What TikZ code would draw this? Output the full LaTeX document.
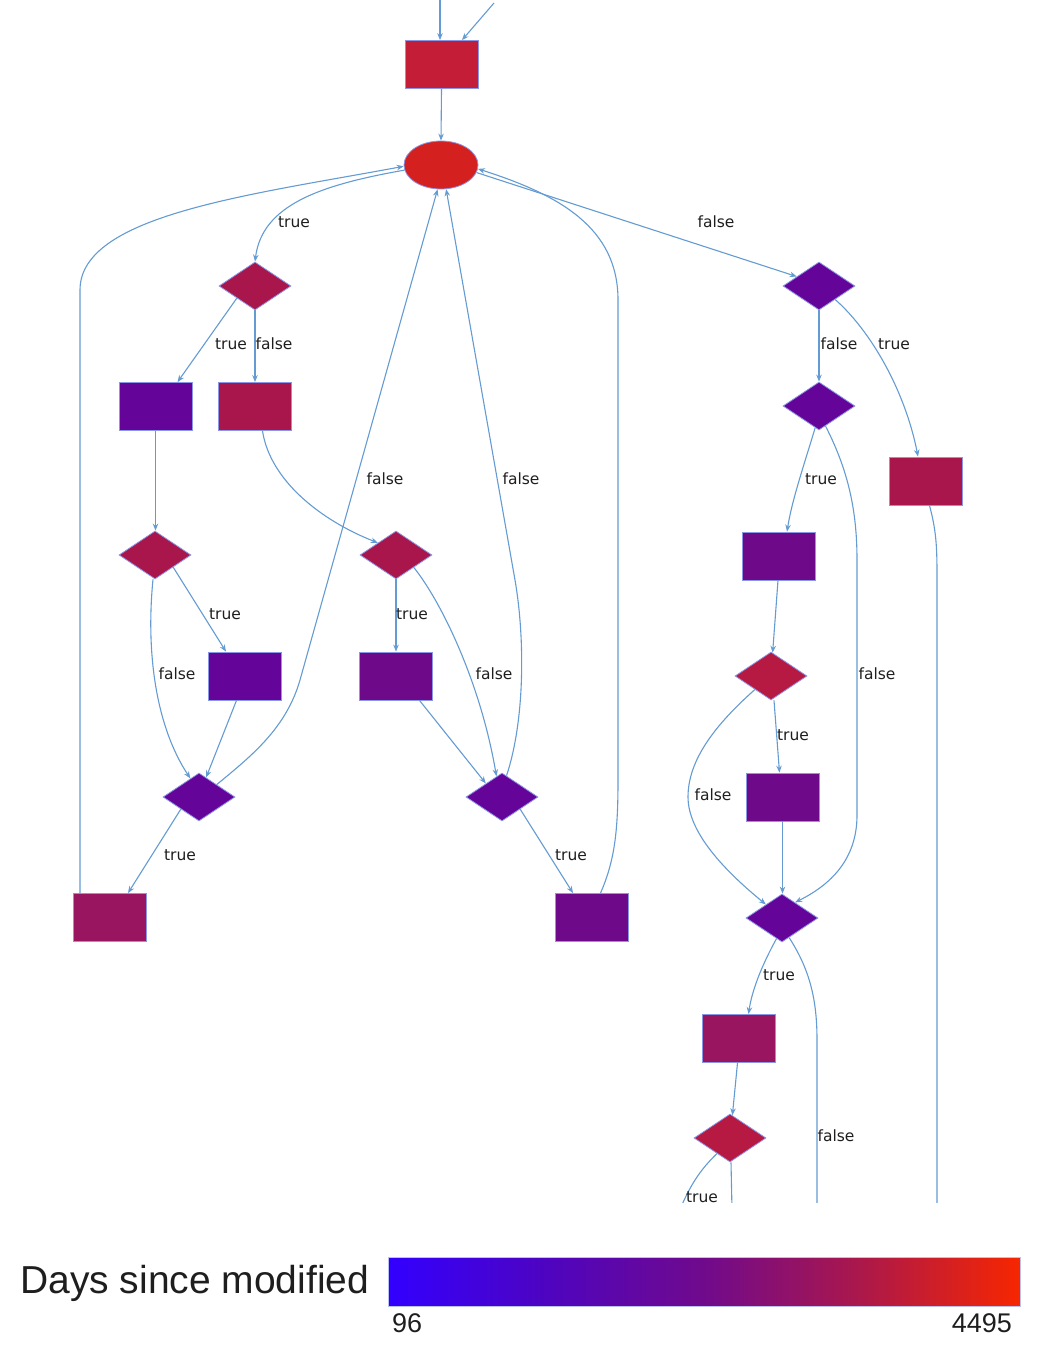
\documentclass[tikz,border=0pt]{standalone}
\usepackage{fontspec}
\setmainfont{DejaVu Sans}
\newfontfamily\legendfont{Liberation Sans}
\usetikzlibrary{shapes.geometric,arrows.meta}

% node fill colours (days since modified)
\definecolor{cStart}{RGB}{196,29,55}
\definecolor{cLoop}{RGB}{212,32,30}
\definecolor{cCrim}{RGB}{168,22,76}
\definecolor{cRed}{RGB}{182,26,66}
\definecolor{cMag}{RGB}{154,21,96}
\definecolor{cPurA}{RGB}{101,4,153}
\definecolor{cPurB}{RGB}{110,10,138}
\definecolor{edgeblue}{RGB}{100,155,210}
\definecolor{rimblue}{RGB}{140,150,230}
\definecolor{txt}{RGB}{30,30,30}

% legend bar colours
\definecolor{gA}{RGB}{50,0,255}
\definecolor{gB}{RGB}{78,4,192}
\definecolor{gC}{RGB}{112,10,140}
\definecolor{gD}{RGB}{172,24,74}
\definecolor{gE}{RGB}{247,38,0}
\pgfdeclarehorizontalshading{agebar}{100bp}{%
  color(0bp)=(gA); color(25bp)=(gA); color(37.5bp)=(gB);
  color(50bp)=(gC); color(62.5bp)=(gD); color(75bp)=(gE); color(100bp)=(gE)}

\tikzset{
  box/.style={rectangle, draw=rimblue, line width=0.8pt, minimum width=73pt, minimum height=48pt, inner sep=0pt},
  cond/.style={diamond, draw=rimblue, line width=0.8pt, minimum width=72pt, minimum height=48pt, inner sep=0pt},
  loophead/.style={ellipse, draw=rimblue, line width=0.8pt, minimum width=74pt, minimum height=48pt, inner sep=0pt},
  edge/.style={draw=edgeblue, line width=1.1pt, -{Stealth[length=7pt,width=5.5pt]}},
  plain/.style={draw=edgeblue, line width=1.1pt},
  lbl/.style={text=txt, font=\fontsize{15.5}{18}\selectfont, inner sep=0pt},
  legend/.style={text=txt, inner sep=0pt}
}

\begin{document}
\begin{tikzpicture}[x=1pt,y=-1pt]
\useasboundingbox (0,0) rectangle (1045,1356);

\begin{scope}
\clip (0,0) rectangle (1045,1202);

% ---- nodes ----
\node[box, fill=cStart] (r0) at (441.5,64.5) {};
\node[loophead, fill=cLoop] (loop) at (441,165) {};

\node[cond, fill=cCrim] (d1) at (255,286) {};
\node[box, fill=cPurA] (ra) at (155.5,406.5) {};
\node[box, fill=cCrim] (rb) at (254.5,406.5) {};
\node[cond, fill=cCrim] (d2) at (155,555) {};
\node[cond, fill=cCrim] (d3) at (396,555) {};
\node[box, fill=cPurA] (rc) at (244.5,676) {};
\node[box, fill=cPurB] (re) at (395.5,676) {};
\node[cond, fill=cPurA] (d4) at (199,797) {};
\node[cond, fill=cPurA] (d5) at (502,797) {};
\node[box, fill=cMag] (rd) at (110,917.5) {};
\node[box, fill=cPurB] (rf) at (591.5,917.5) {};

\node[cond, fill=cPurA] (d6) at (819,286) {};
\node[cond, fill=cPurA] (d7) at (819,406) {};
\node[box, fill=cCrim] (rg) at (925.5,481) {};
\node[box, fill=cPurB] (rh) at (779,556) {};
\node[cond, fill=cRed] (d8) at (771,676) {};
\node[box, fill=cPurB] (ri) at (782.5,797) {};
\node[cond, fill=cPurA] (d9) at (782,918) {};
\node[box, fill=cMag] (rj) at (738.5,1038.5) {};
\node[cond, fill=cRed] (d10) at (730,1138) {};

% free ends of edges leaving the drawn area
\coordinate (in1) at (440,-2);
\coordinate (in2) at (494,3);
\coordinate (outG) at (937,1210);
\coordinate (outF) at (817,1210);
\coordinate (outT) at (678,1214);
\coordinate (outM) at (732,1210);

% ---- connectors ----
\draw[edge] (in1) -- (in1 |- r0.north);
\draw[edge] (in2) -- ([xshift=20.5pt]r0.north);
\draw[edge] (r0.south) -- (loop.north);

% left branch
\draw[edge] (loop.188) .. controls (320,185) and (262,205) .. (d1.north);
\draw[edge] (d1.south west) -- ([xshift=22pt]ra.north);
\draw[edge] (d1.south) -- (d1.south |- rb.north);
\draw[edge] (ra.south) -- (ra.south |- d2.north);
\draw[edge] ([xshift=8pt]rb.south) .. controls (270,480) and (320,520) .. (d3.north west);
\draw[edge] (d2.south east) -- ([xshift=-18.5pt]rc.north);
\draw[edge] ([xshift=-2pt]d2.south) .. controls (146,650) and (155,725) .. (d4.115);
\draw[edge] ([xshift=-8pt]rc.south) -- (d4.70);
\draw[edge] (d4.35) .. controls (250,757) and (286,729) .. (300,680) -- (loop.262);
\draw[edge] (d4.south west) -- ([xshift=18pt]rd.north);
\draw[edge] ([xshift=-30pt]rd.north) -- (80,290) .. controls (80,215) and (250,195) .. (loop.182);

% middle branch
\draw[edge] (d3.south) -- (d3.south |- re.north);
\draw[edge] (d3.-35) .. controls (440,600) and (480,680) .. (d5.105);
\draw[edge] ([xshift=24pt]re.south) -- (d5.140);
\draw[edge] (d5.78) .. controls (525,720) and (525,638) .. (515,580) -- (loop.282);
\draw[edge] (d5.south east) -- ([xshift=-18.5pt]rf.north);
\draw[edge] ([xshift=9pt]rf.north) .. controls (615,860) and (618,830) .. (618,780) -- (618,300) .. controls (618,228) and (560,195) .. (loop.-6);

% right branch
\draw[edge] (loop.-12) -- (d6.157);
\draw[edge] (d6.south) -- (d7.north);
\draw[edge] (d6.-40) .. controls (870,330) and (905,390) .. ([xshift=-7.5pt]rg.north);
\draw[plain] ([xshift=4pt]rg.south) .. controls (936,530) and (937,545) .. (937,575) -- (outG);
\draw[edge] (d7.-100) .. controls (804,465) and (792,500) .. ([xshift=8pt]rh.north);
\draw[edge] (d7.-72) .. controls (848,470) and (857,510) .. (857,560) -- (857,815) .. controls (857,860) and (830,885) .. (d9.50);
\draw[edge] ([xshift=-1pt]rh.south) -- (d8.86);
\draw[edge] ([xshift=3pt]d8.south) -- ([xshift=-3pt]ri.north);
\draw[edge] (d8.-140) .. controls (715,725) and (688,760) .. (688,797) .. controls (688,835) and (730,875) .. (d9.140);
\draw[edge] (ri.south) -- (ri.south |- d9.north);
\draw[edge] (d9.-105) .. controls (762,965) and (752,990) .. ([xshift=10pt]rj.north);
\draw[plain] (d9.-70) .. controls (810,970) and (817,1000) .. (817,1040) -- (outF);
\draw[edge] ([xshift=-1pt]rj.south) -- (d10.84);
\draw[plain] (d10.-130) .. controls (700,1170) and (690,1185) .. (outT);
\draw[plain] ([xshift=1pt]d10.south) -- (outM);

% ---- connector labels ----
\node[lbl] (l1) at (294,222) {true};
\node[lbl] (l2) at (716,222) {false};
\node[lbl] (l3) at (231,344) {true};
\node[lbl] (l4) at (274,344) {false};
\node[lbl] (l5) at (839,344) {false};
\node[lbl] (l6) at (894,344) {true};
\node[lbl] (l7) at (385,479) {false};
\node[lbl] (l8) at (521,479) {false};
\node[lbl] (l9) at (821,479) {true};
\node[lbl] (l10) at (225,614) {true};
\node[lbl] (l11) at (412,614) {true};
\node[lbl] (l12) at (177,674) {false};
\node[lbl] (l13) at (494,674) {false};
\node[lbl] (l14) at (877,674) {false};
\node[lbl] (l15) at (793,735) {true};
\node[lbl] (l16) at (713,795) {false};
\node[lbl] (l17) at (180,855) {true};
\node[lbl] (l18) at (571,855) {true};
\node[lbl] (l19) at (779,975) {true};
\node[lbl] (l20) at (836,1136) {false};
\node[lbl] (l21) at (702,1197) {true};
\end{scope}

% ---- legend ----
\node[legend, anchor=base west, font=\legendfont\fontsize{39}{44}\selectfont] (ltitle) at (20,1293) {Days since modified};
\shade[shading=agebar] (388,1257) rectangle (1020,1306);
\draw[draw=rimblue!60, line width=0.8pt] (388,1257) rectangle (1020,1306);
\node[legend, anchor=base west, font=\legendfont\fontsize{27}{30}\selectfont] (lmin) at (392,1332) {96};
\node[legend, anchor=base east, font=\legendfont\fontsize{27}{30}\selectfont] (lmax) at (1012,1332) {4495};
\end{tikzpicture}
\end{document}
